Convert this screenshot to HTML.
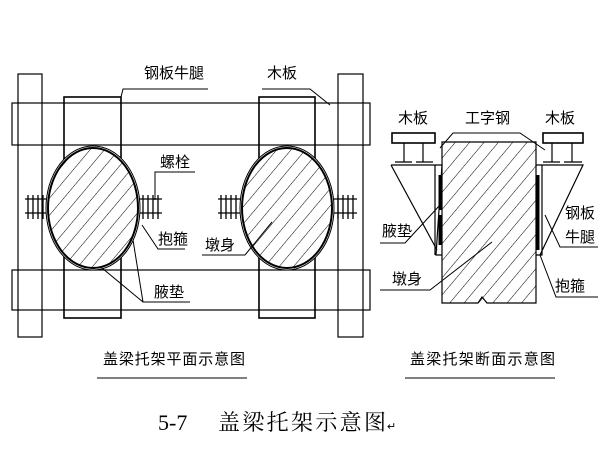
<!DOCTYPE html>
<html><head><meta charset="utf-8"><style>
html,body{margin:0;padding:0;background:#fff}
svg{display:block}
text{font-family:"Liberation Sans","Noto Sans CJK SC",sans-serif;fill:#000}
</style></head><body>
<svg width="600" height="450" viewBox="0 0 600 450" xmlns="http://www.w3.org/2000/svg">
<defs>
<pattern id="h" patternUnits="userSpaceOnUse" width="11" height="11" patternTransform="rotate(40)">
<line x1="0" y1="0" x2="0" y2="11" stroke="#000" stroke-width="1"/>
</pattern>
<clipPath id="c1"><ellipse cx="93" cy="208" rx="45" ry="60"/></clipPath>
<clipPath id="c2"><ellipse cx="287" cy="208" rx="45" ry="60"/></clipPath>
</defs>
<g fill="none" stroke="#000" stroke-width="1.2">
<rect x="18" y="74" width="24" height="263"/>
<rect x="338" y="74" width="25" height="263"/>
<rect x="64" y="97" width="57" height="221" stroke-width="1.6"/>
<rect x="259" y="97" width="56" height="221" stroke-width="1.6"/>
<rect x="12" y="103" width="358" height="42" fill="none"/>
<rect x="12" y="270" width="358" height="40" fill="none"/>
</g>
<g>
<ellipse cx="93" cy="208" rx="47" ry="62" fill="#fff" stroke="#000" stroke-width="1"/>
<rect x="40" y="140" width="110" height="140" fill="url(#h)" clip-path="url(#c1)"/>
<ellipse cx="93" cy="208" rx="45" ry="60" fill="none" stroke="#000" stroke-width="2"/>
<ellipse cx="287" cy="208" rx="47" ry="62" fill="#fff" stroke="#000" stroke-width="1"/>
<rect x="235" y="140" width="110" height="140" fill="url(#h)" clip-path="url(#c2)"/>
<ellipse cx="287" cy="208" rx="45" ry="60" fill="none" stroke="#000" stroke-width="2"/>
</g>
<g stroke="#000" stroke-width="1.3" fill="none">
<path d="M25 199H46M25 213H46M28 195V219M33 195V219M38 195V219M43 195V219"/>
<path d="M140 199H162M140 213H162M143 195V219M148 195V219M153 195V219M158 195V219"/>
<path d="M218 199H240M218 213H240M221 195V219M226 195V219M231 195V219M236 195V219"/>
<path d="M334 199H357M334 213H357M338 195V219M343 195V219M348 195V219M353 195V219"/>
</g>
<g stroke="#000" stroke-width="1" fill="none">
<path d="M208 89H123L121 97"/>
<path d="M262 89H310L330 105"/>
<path d="M195 172H155V200"/>
<path d="M185 249H158L142 225"/>
<path d="M190 302H143L102 268M143 302L133 240"/>
<path d="M245 255H202M245 255L272 222"/>
</g>
<g font-size="15">
<text x="144" y="78">钢板牛腿</text>
<text x="267" y="78">木板</text>
<text x="160" y="167">螺栓</text>
<text x="158" y="244">抱箍</text>
<text x="154" y="297">腋垫</text>
<text x="205" y="250">墩身</text>
</g>
<g fill="none" stroke="#000" stroke-width="1.2">
<path d="M442 142H536V303H487L482 297L478 303H442Z"/>
<rect x="392" y="133" width="43" height="10" stroke-width="1.6"/>
<path d="M404 143V162M423 143V162M395 162H412M416 162H433"/>
<rect x="543" y="133" width="40" height="10" stroke-width="1.6"/>
<path d="M552 143V162M572 143V162M543 162H560M564 162H582"/>
<path d="M391 165H442L436 255H442M391 165L437 250"/>
<path d="M536 165H583L540 255M536 255H542V165"/>
<path d="M435 165V255"/>
</g>
<clipPath id="c3"><path d="M442 142H536V303H442Z"/></clipPath>
<rect x="442" y="142" width="94" height="161" fill="url(#h)" clip-path="url(#c3)"/>
<g stroke="#000" stroke-width="3"><path d="M440 175V210M440 215V245M538 175V250"/></g>
<g stroke="#000" stroke-width="1" fill="none">
<path d="M440 148L453 133H520L545 150"/>
<path d="M380 243H405L440 205"/>
<path d="M598 247H560L545 215"/>
<path d="M380 290H430L492 242"/>
<path d="M598 297H556L540 255"/>
</g>
<g font-size="15">
<text x="398" y="123">木板</text>
<text x="465" y="123">工字钢</text>
<text x="545" y="123">木板</text>
<text x="382" y="236">腋垫</text>
<text x="565" y="218">钢板</text>
<text x="565" y="242">牛腿</text>
<text x="392" y="284">墩身</text>
<text x="555" y="291">抱箍</text>
</g>
<g font-size="15">
<text x="103" y="364" textLength="142">盖梁托架平面示意图</text>
<text x="410" y="364" textLength="145">盖梁托架断面示意图</text>
</g>
<path d="M97 378H247M405 378H555" stroke="#000" stroke-width="1"/>
<text x="158" y="430" font-size="22" style="font-family:'Liberation Serif','Noto Serif CJK SC',serif">5-7</text>
<text x="218" y="430" font-size="22" textLength="168" style="font-family:'Liberation Serif','Noto Serif CJK SC',serif" fill="#333">盖梁托架示意图</text>
<text x="387" y="430" font-size="11" fill="#666">↵</text>
</svg>
</body></html>
